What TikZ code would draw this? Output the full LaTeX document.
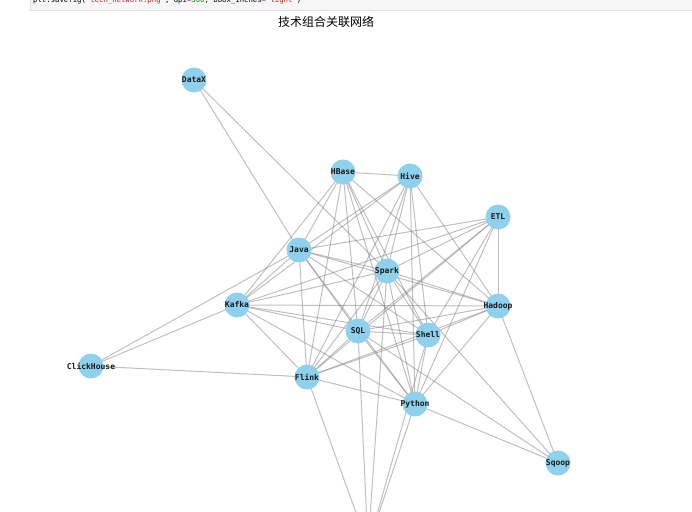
\documentclass[tikz,border=0pt]{standalone}
\usepackage{fontspec}
\newfontfamily\cjk{Noto Sans CJK SC}
\newfontfamily\lab{DejaVu Sans Mono}
\usetikzlibrary{backgrounds}
\definecolor{nodeblue}{RGB}{143,209,236}
\definecolor{edgegray}{RGB}{128,128,128}
\definecolor{stripfill}{RGB}{246,246,246}
\definecolor{stripline}{RGB}{224,224,224}
\definecolor{codestr}{RGB}{186,33,33}
\definecolor{codeop}{RGB}{170,34,255}
\definecolor{codenum}{RGB}{0,136,0}
\begin{document}
\begin{tikzpicture}[x=1pt,y=-1pt,
  tn/.style={circle, fill=nodeblue, minimum size=25pt, inner sep=0pt,
    font=\lab\bfseries\fontsize{8}{8}\selectfont, text=black!90},
  edge/.style={draw=edgegray, line width=1pt, draw opacity=0.5}]
\useasboundingbox (0,0) rectangle (692,511);
\clip (0,0) rectangle (692,511);
% code strip
\fill[stripfill] (30,-3) rectangle (692,10);
\draw[stripline, line width=0.6pt] (30,-3) -- (30,10) -- (692,10);
\node[anchor=west, inner sep=0pt, font=\lab\fontsize{7.3}{7.3}\selectfont] (code) at (33,0.5)
 {plt.savefig({\color{codestr}'tech\_network.png'}, dpi{\color{codeop}=}{\color{codenum}300}, bbox\_inches{\color{codeop}=}{\color{codestr}'tight'})};
% title
\node[font=\cjk\fontsize{12}{12}\selectfont] (title) at (326,22) {技术组合关联网络};
% nodes
\node[tn] (datax) at (194,80) {\makebox[0pt]{DataX}};
\node[tn] (hbase) at (343,172) {\makebox[0pt]{HBase}};
\node[tn] (hive) at (410,176) {\makebox[0pt]{Hive}};
\node[tn] (etl) at (498,217) {\makebox[0pt]{ETL}};
\node[tn] (java) at (299,250) {\makebox[0pt]{Java}};
\node[tn] (spark) at (387,271) {\makebox[0pt]{Spark}};
\node[tn] (hadoop) at (498,306) {\makebox[0pt]{Hadoop}};
\node[tn] (kafka) at (237,305) {\makebox[0pt]{Kafka}};
\node[tn] (sql) at (358,331) {\makebox[0pt]{SQL}};
\node[tn] (shell) at (428,335) {\makebox[0pt]{Shell}};
\node[tn] (clickhouse) at (91,366) {\makebox[0pt]{ClickHouse}};
\node[tn] (flink) at (307,377) {\makebox[0pt]{Flink}};
\node[tn] (python) at (415,404) {\makebox[0pt]{Python}};
\node[tn] (sqoop) at (558,463) {\makebox[0pt]{Sqoop}};
\node[tn] (hidden) at (368,546) {};
% edges
\begin{scope}[on background layer]
\foreach \a/\b in {
 hbase/hive, hbase/java, hbase/spark, hbase/hadoop, hbase/kafka, hbase/sql, hbase/shell, hbase/flink, hbase/python,
 hive/java, hive/spark, hive/hadoop, hive/kafka, hive/sql, hive/shell, hive/flink, hive/python,
 etl/java, etl/spark, etl/hadoop, etl/kafka, etl/sql, etl/shell, etl/flink, etl/python,
 java/spark, java/hadoop, java/kafka, java/sql, java/shell, java/flink, java/python,
 spark/hadoop, spark/kafka, spark/sql, spark/shell, spark/flink, spark/python,
 hadoop/kafka, hadoop/sql, hadoop/shell, hadoop/flink, hadoop/python,
 kafka/sql, kafka/shell, kafka/flink, kafka/python,
 sql/shell, sql/flink, sql/python,
 shell/flink, shell/python,
 flink/python,
 datax/java, datax/spark,
 clickhouse/kafka, clickhouse/java, clickhouse/flink,
 sqoop/python, sqoop/sql, sqoop/spark, sqoop/hadoop,
 hidden/flink, hidden/sql, hidden/spark, hidden/python, hidden/shell}
 \draw[edge] (\a.center) -- (\b.center);
\end{scope}
\end{tikzpicture}
\end{document}
